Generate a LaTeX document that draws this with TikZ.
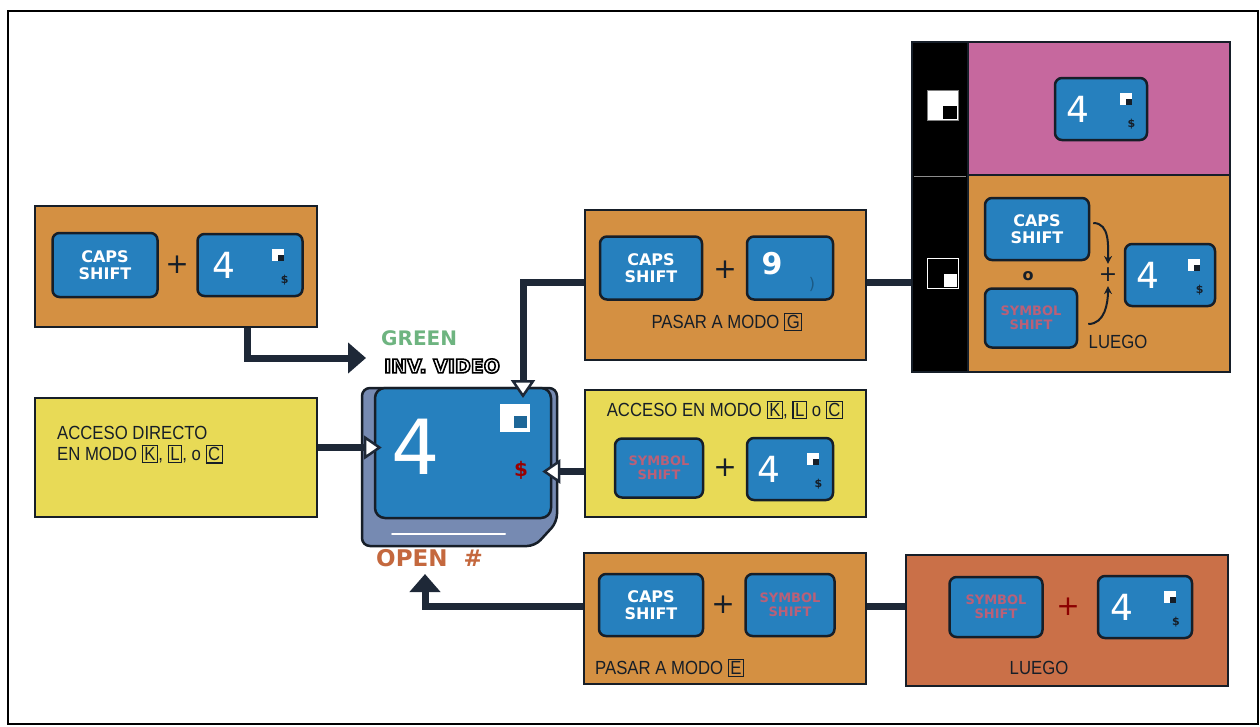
\documentclass[tikz,border=0pt]{standalone}
\usepackage{fontspec}
\setmainfont{Liberation Sans}
\newfontfamily\labelfont[FakeStretch=0.88]{Liberation Sans}
\newfontfamily\keyfont{DejaVu Sans}
\usetikzlibrary{arrows.meta,calc}

\definecolor{boxorange}{RGB}{212,144,66}
\definecolor{boxpink}{RGB}{198,104,158}
\definecolor{boxyellow}{RGB}{232,218,86}
\definecolor{boxbrown}{RGB}{202,112,72}
\definecolor{keyblue}{RGB}{38,128,190}
\definecolor{keyedge}{RGB}{22,30,40}
\definecolor{wirecol}{RGB}{30,40,55}
\definecolor{keybase}{RGB}{118,138,178}
\definecolor{symred}{RGB}{186,96,120}
\definecolor{greenlbl}{RGB}{110,180,128}
\definecolor{openlbl}{RGB}{196,104,62}

\newcommand{\modo}[1]{{\setlength{\fboxsep}{1.5pt}\setlength{\fboxrule}{1.2pt}\fbox{#1}}}
% white letters with a black outline (text render mode 2)
\newcommand{\outlined}[1]{{\color{white}\special{pdf:literal direct 0 0 0 RG 1.6 w 2 Tr}#1\special{pdf:literal direct 0 Tr}}}

\begin{document}
\begin{tikzpicture}[x=1pt, y=-1pt,
  panelbox/.style={draw=keyedge, line width=1.8pt, inner sep=0pt},
  kbkey/.style={draw=keyedge, fill=keyblue, line width=2.5pt, rounded corners=7pt,
    minimum height=62pt, inner sep=0pt, align=center, text=white,
    font=\keyfont\bfseries\fontsize{16}{17}\selectfont},
  symkey/.style={kbkey, text=symred, font=\keyfont\bfseries\fontsize{13}{14}\selectfont},
  plussign/.style={inner sep=0pt, text=keyedge, font=\keyfont\fontsize{28}{28}\selectfont},
  lbl/.style={inner sep=0pt, text=keyedge, align=left, font=\labelfont\fontsize{19}{21}\selectfont},
  wire/.style={draw=wirecol, line width=7pt},
  blackhead/.style={-{Triangle[length=18pt,width=30pt]}},
  whitehead/.style={-{Triangle[length=18pt,width=24pt,fill=white,line width=2.5pt]}},
  pics/fourkey/.style={code={
    \node[kbkey, minimum width=#1pt] (-k) {};
    \node[text=white, inner sep=0pt, font=\keyfont\fontsize{36}{36}\selectfont] (-n) at ({-0.25*#1},0) {4};
    \fill[white] ({0.27*#1-6},-16) rectangle +(12,12);
    \fill[keyedge] ({0.27*#1},-10) rectangle +(6,6);
    \node[inner sep=0pt, text=keyedge, font=\keyfont\bfseries\fontsize{11}{11}\selectfont] (-d) at ({0.33*#1},15) {\$};
  }},
  pics/fourkey/.default=90]

\useasboundingbox (0,0) rectangle (1260,726);
\draw[line width=1.3pt] (8,11) rectangle (1258,724);

% left column
\node[panelbox, fill=boxorange, minimum width=282pt, minimum height=121pt] (capsfour) at (176,266.5) {};
\node[kbkey, minimum width=105pt, minimum height=64pt] (capsa) at (105,265) {CAPS\\SHIFT};
\node[plussign] (plusa) at (177,265) {+};
\pic (foura) at (250,265) {fourkey=105};

\node[panelbox, fill=boxyellow, minimum width=282pt, minimum height=119pt] (direct) at (176,457.5) {};
\node[lbl, anchor=west] (directtxt) at (57,445) {ACCESO DIRECTO\\EN MODO \modo{K}, \modo{L}, o \modo{C}};

% the key itself
\filldraw[fill=keybase, draw=keyedge, line width=2.5pt, rounded corners=8pt]
  (362,388) -- (557,388) -- (557,522) -- (535,546) -- (362,546) -- cycle;
\draw[white, line width=2pt, line cap=round] (392,534) -- (505,534);
\node[kbkey, minimum width=176pt, minimum height=130pt, rounded corners=10pt] (bigkey) at (463,453) {};
\node[text=white, inner sep=0pt, font=\keyfont\fontsize{76}{76}\selectfont] (bigfour) at (416,447) {4};
\fill[white] (500,404) rectangle (530,432);
\fill[keyblue!80!black] (514,416) rectangle (527,428);
\node[inner sep=0pt, text=red!60!black, font=\keyfont\bfseries\fontsize{20}{20}\selectfont] (bigdollar) at (521,470) {\$};

\node[anchor=west, inner sep=0pt, text=greenlbl, font=\keyfont\bfseries\fontsize{20}{20}\selectfont] (greentxt) at (381,338) {GREEN};
\node[anchor=west, inner sep=0pt, font=\keyfont\bfseries\fontsize{19}{19}\selectfont] (invtxt) at (384,366) {\outlined{INV. VIDEO}};
\node[anchor=west, inner sep=0pt, text=openlbl, font=\keyfont\bfseries\fontsize{23}{23}\selectfont] (opentxt) at (376,558) {OPEN\ \ \#};

% middle column
\node[panelbox, fill=boxorange, minimum width=281pt, minimum height=150pt] (gmode) at (725.5,285) {};
\node[kbkey, minimum width=102pt, minimum height=63pt] (capsg) at (651,268) {CAPS\\SHIFT};
\node[plussign] (plusg) at (725,270) {+};
\node[kbkey, minimum width=86pt, minimum height=63pt] (ninekey) at (790,268) {};
\node[text=white, inner sep=0pt, font=\keyfont\bfseries\fontsize{30}{30}\selectfont] (nine) at (772,264) {9};
\node[text=keyblue!70!black, inner sep=0pt, font=\keyfont\fontsize{16}{16}\selectfont] (paren) at (812,284) {)};
\node[lbl] (gtxt) at (727,322) {PASAR A MODO \modo{G}};

\node[panelbox, fill=boxyellow, minimum width=281pt, minimum height=127pt] (kmode) at (725.5,453.5) {};
\node[lbl] (ktxt) at (725,410) {ACCESO EN MODO \modo{K}, \modo{L} o \modo{C}};
\node[symkey, minimum width=88pt, minimum height=59pt] (symk) at (659,468) {SYMBOL\\SHIFT};
\node[plussign] (plusk) at (725,468) {+};
\pic (fourk) at (790,469) {fourkey=86};

\node[panelbox, fill=boxorange, minimum width=282pt, minimum height=131pt] (emode) at (725,618.5) {};
\node[kbkey, minimum width=104pt, minimum height=62pt] (capse) at (651,605) {CAPS\\SHIFT};
\node[plussign] (pluse) at (723,605) {+};
\node[symkey, minimum width=89pt, minimum height=62pt] (syme) at (790,605) {SYMBOL\\SHIFT};
\node[lbl, anchor=west] (etxt) at (595,668) {PASAR A MODO \modo{E}};

\node[panelbox, fill=boxbrown, minimum width=322pt, minimum height=131pt] (luego) at (1067,620.5) {};
\node[symkey, minimum width=93pt, minimum height=60pt] (syml) at (996,607) {SYMBOL\\SHIFT};
\node[plussign, text=red!55!black] (plusl) at (1068,607) {+};
\pic (fourl) at (1145,607) {fourkey=94};
\node[lbl] (ltxt) at (1039,668) {LUEGO};

% right column
\node[panelbox, fill=black, minimum width=56pt, minimum height=330pt] (strip) at (940,207) {};
\node[panelbox, fill=boxpink, minimum width=262pt, minimum height=133pt] (pinkpanel) at (1099,108.5) {};
\node[panelbox, fill=boxorange, minimum width=262pt, minimum height=197pt] (thenpanel) at (1099,273.5) {};
\draw[black!45, line width=1pt] (914,176) -- (966,176);
\filldraw[fill=white, draw=black!50] (927,90) rectangle (958,120);
\fill[black] (943,106) rectangle (957,119);
\draw[white, line width=0.8pt] (927,258) rectangle (958,288);
\fill[white] (944,274) rectangle (957,287);

\pic (fourp) at (1101,109) {fourkey=92};

\node[kbkey, minimum width=104pt, minimum height=62pt] (capsr) at (1037,229) {CAPS\\SHIFT};
\node[inner sep=0pt, text=keyedge, font=\keyfont\bfseries\fontsize{16}{16}\selectfont] (ortxt) at (1028,276) {o};
\node[symkey, minimum width=92pt, minimum height=59pt] (symr) at (1031,318) {SYMBOL\\SHIFT};
\node[plussign, font=\keyfont\fontsize{22}{22}\selectfont] (plusr) at (1108,275) {+};
\pic (fourr) at (1170,275) {fourkey=90};
\node[lbl] (rtxt) at (1118,342) {LUEGO};
\draw[keyedge, line width=2pt, -{Stealth[length=8pt,width=8pt]}] ($(capsr.east)+(3,-6)$) to[out=0, in=90] ($(plusr.north)+(0,-4)$);
\draw[keyedge, line width=2pt, -{Stealth[length=8pt,width=8pt]}] ($(symr.east)+(10,6)$) to[out=0, in=-90] ($(plusr.south)+(0,4)$);

% connectors
\coordinate (greenin) at (366,358);
\coordinate (invtip) at (523,398);
\coordinate (opentip) at (425,574);
\draw[wire, blackhead] ([xshift=71pt]capsfour.south) |- (greenin);
\draw[wire, whitehead] ($(gmode.west)+(0,-3)$) -| (invtip);
\draw[wire, whitehead] ($(direct.east)+(0,-10)$) -- ($(direct.east -| bigkey.west)+(8,-10)$);
\draw[wire, whitehead] ($(kmode.west)+(0,18)$) -- ($(kmode.west -| bigkey.east)+(-10,18)$);
\draw[wire] ($(gmode.east)+(0,-3)$) -- ($(gmode.east -| strip.west)+(0,-3)$);
\draw[wire, blackhead] ($(emode.west)+(0,-12)$) -| (opentip);
\draw[wire] ($(emode.east)+(0,-12)$) -- ($(emode.east -| luego.west)+(0,-12)$);
\end{tikzpicture}
\end{document}
